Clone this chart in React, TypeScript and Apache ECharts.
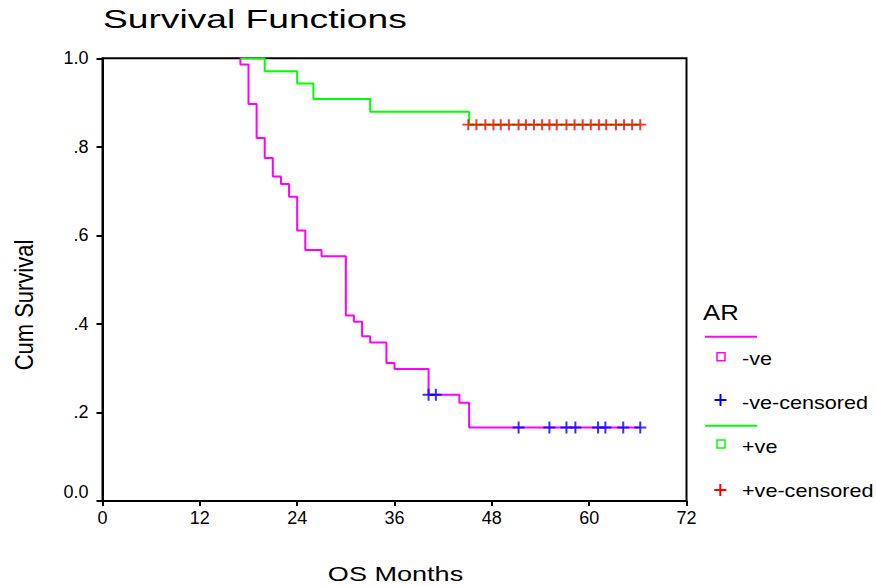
import React, { useEffect, useRef } from "react";
import * as echarts from "echarts";

// Kaplan-Meier steps: [month, cumulative survival] (value after the drop)
const negTimes = [17, 17, 18, 19, 20, 21, 22, 23, 24, 25, 27, 30, 31, 32, 33, 35, 36, 40.2, 44, 45.2, 66.3];
const negSurv = [1.0, 0.986, 0.897, 0.82, 0.775, 0.733, 0.716, 0.687, 0.611, 0.567, 0.553, 0.419, 0.405, 0.372, 0.358, 0.312, 0.298, 0.24, 0.222, 0.166, 0.166];
const posTimes = [17, 20, 24, 26, 33, 45.2, 66.3];
const posSurv = [1.0, 0.971, 0.943, 0.908, 0.879, 0.85, 0.85];

// Censored observations
const negCensTimes = [40.2, 41.1, 51.3, 55.1, 57.2, 58.3, 61.1, 62.0, 64.2, 66.3];
const negCensSurv = [0.24, 0.24, 0.166, 0.166, 0.166, 0.166, 0.166, 0.166, 0.166, 0.166];
const posCensTimes = [45.1, 46.1, 47.2, 48.2, 49.1, 50.1, 51.3, 52.2, 53.2, 54.2, 55.1, 56.0, 57.2, 58.2, 59.2, 60.2, 61.2, 62.1, 63.3, 64.3, 65.3, 66.3];
const posCensSurv = posCensTimes.map(() => 0.85);

const xTicks = [0, 12, 24, 36, 48, 60, 72];
const yTickLabels: Record<string, string> = { "0": "0.0", "0.2": ".2", "0.4": ".4", "0.6": ".6", "0.8": ".8", "1": "1.0" };

const legendLabels = ["-ve", "-ve-censored", "+ve", "+ve-censored"];
const legendTitle = "AR";

const MAGENTA = "#ff00ff";
const GREEN = "#00ff00";
const BLUE = "#0000ff";
const RED = "#ff0000";
const FONT = "Liberation Sans, Arial, sans-serif";

const PLUS = "path://M5,0h2v5h5v2h-5v5h-2v-5h-5v-2h5z";

const zip = (a: number[], b: number[]) => a.map((v, i) => [v, b[i]]);

function plus(cx: number, cy: number, size: number, color: string) {
  const h = size / 2;
  return [
    { type: "line", shape: { x1: cx - h, y1: cy, x2: cx + h, y2: cy }, style: { stroke: color, lineWidth: 2 } },
    { type: "line", shape: { x1: cx, y1: cy - h, x2: cx, y2: cy + h }, style: { stroke: color, lineWidth: 2 } },
  ];
}

export default function App() {
  const ref = useRef<HTMLDivElement>(null);
  useEffect(() => {
    if (!ref.current) return;
    const chart = echarts.init(ref.current, null, { renderer: "svg" });
    const legendText = (text: string, y: number) => ({
      type: "text",
      x: 742,
      y,
      scaleX: 1.2,
      style: { text, fontSize: 18, fontFamily: FONT, fill: "#000", align: "left", verticalAlign: "middle" },
    });
    chart.setOption({
      animation: false,
      backgroundColor: "#fff",
      grid: { left: 102.5, right: 189.5, top: 58.3, bottom: 85, show: true, borderColor: "#000", borderWidth: 2 },
      xAxis: {
        type: "value",
        min: 0,
        max: 72,
        interval: 12,
        splitLine: { show: false },
        axisLine: { show: true, lineStyle: { color: "#000", width: 2 } },
        axisTick: { show: true, length: 5, lineStyle: { color: "#000", width: 2 } },
        axisLabel: {
          margin: 8,
          fontSize: 18,
          fontFamily: FONT,
          color: "#000",
          formatter: (v: number) => (xTicks.includes(v) ? String(v) : ""),
        },
      },
      yAxis: {
        type: "value",
        min: 0,
        max: 1,
        interval: 0.2,
        splitLine: { show: false },
        axisLine: { show: true, lineStyle: { color: "#000", width: 2 } },
        axisTick: { show: true, length: 6, lineStyle: { color: "#000", width: 2 } },
        axisLabel: {
          margin: 14,
          fontSize: 18,
          fontFamily: FONT,
          color: "#000",
          formatter: (v: number) => {
            const s = yTickLabels[String(Math.round(v * 10) / 10)] ?? "";
            return v === 0 ? "{low|" + s + "}" : s;
          },
          rich: {
            low: { fontSize: 18, fontFamily: FONT, color: "#000", padding: [0, 0, 18, 0] },
          },
        },
      },
      series: [
        {
          type: "line",
          step: "end",
          data: zip(negTimes, negSurv),
          symbol: "none",
          lineStyle: { color: MAGENTA, width: 2 },
          z: 2,
        },
        {
          type: "line",
          step: "end",
          data: zip(posTimes, posSurv),
          symbol: "none",
          lineStyle: { color: GREEN, width: 2 },
          z: 2,
        },
        {
          type: "scatter",
          data: zip(negCensTimes, negCensSurv),
          symbol: PLUS,
          symbolSize: 12,
          itemStyle: { color: BLUE },
          z: 3,
        },
        {
          type: "scatter",
          data: zip(posCensTimes, posCensSurv),
          symbol: PLUS,
          symbolSize: [12, 11],
          symbolKeepAspect: false,
          itemStyle: { color: RED },
          z: 3,
        },
      ],
      graphic: [
        {
          type: "text",
          x: 103,
          y: 19,
          scaleX: 1.43,
          style: { text: "Survival Functions", fontSize: 26, fontFamily: FONT, fill: "#000", align: "left", verticalAlign: "middle" },
        },
        {
          type: "text",
          x: 395.5,
          y: 573.5,
          scaleX: 1.32,
          style: { text: "OS Months", fontSize: 20.5, fontFamily: FONT, fill: "#000", align: "center", verticalAlign: "middle" },
        },
        {
          type: "text",
          x: 24,
          y: 305,
          rotation: Math.PI / 2,
          scaleY: 1.2,
          style: { text: "Cum Survival", fontSize: 22, fontFamily: FONT, fill: "#000", align: "center", verticalAlign: "middle" },
        },
        {
          type: "text",
          x: 703,
          y: 312,
          scaleX: 1.12,
          style: { text: legendTitle, fontSize: 23, fontFamily: FONT, fill: "#000", align: "left", verticalAlign: "middle" },
        },
        { type: "line", shape: { x1: 705, y1: 336.7, x2: 757, y2: 336.7 }, style: { stroke: MAGENTA, lineWidth: 2 } },
        { type: "rect", shape: { x: 717, y: 352.7, width: 8, height: 8 }, style: { fill: "none", stroke: MAGENTA, lineWidth: 1.5 } },
        legendText(legendLabels[0], 358.7),
        ...plus(720.5, 400, 12, BLUE),
        legendText(legendLabels[1], 402.7),
        { type: "line", shape: { x1: 705, y1: 425.7, x2: 757, y2: 425.7 }, style: { stroke: GREEN, lineWidth: 2 } },
        { type: "rect", shape: { x: 717, y: 440, width: 8, height: 8 }, style: { fill: "none", stroke: GREEN, lineWidth: 1.5 } },
        legendText(legendLabels[2], 447),
        ...plus(720.3, 490, 12, RED),
        legendText(legendLabels[3], 491),
      ],
    });
    return () => chart.dispose();
  }, []);
  return <div ref={ref} style={{ position: "fixed", left: 0, top: 0, width: 876, height: 586 }} />;
}
